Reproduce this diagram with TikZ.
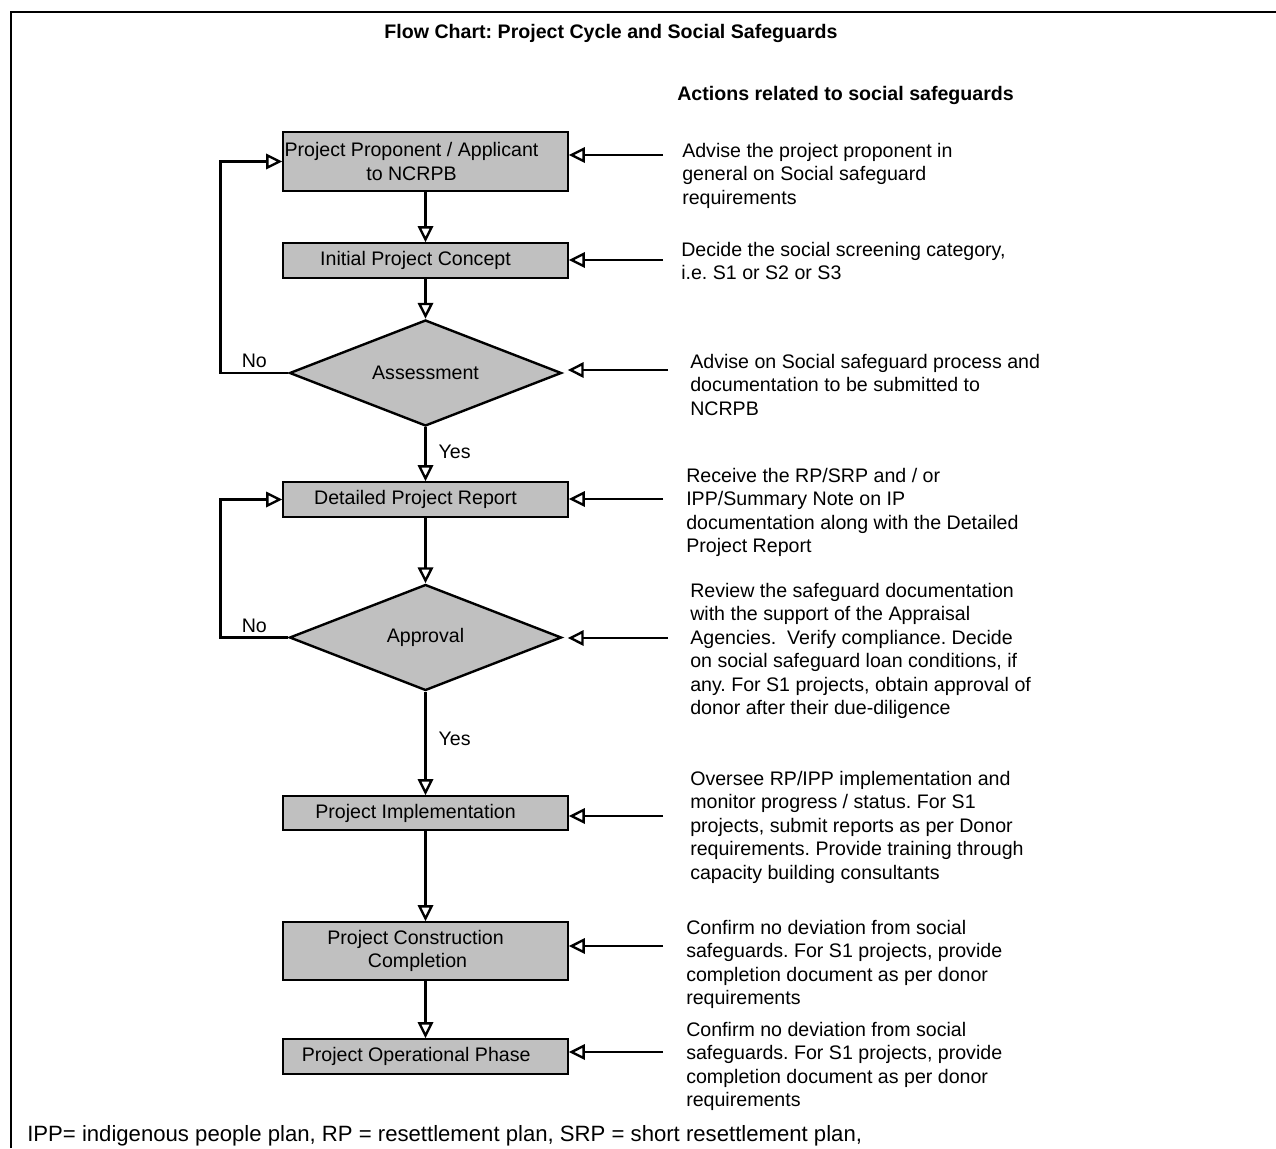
\documentclass[tikz,border=0pt]{standalone}
\usepackage{fontspec}
\setmainfont{Liberation Sans}
\usetikzlibrary{arrows.meta,shapes.geometric,calc}
\definecolor{boxgray}{RGB}{192,192,192}
\newcommand\bodyfont{\fontsize{14.7}{17.55}\selectfont\frenchspacing}
\newcommand\footfont{\fontsize{16.6}{19.8}\selectfont\frenchspacing}
\newcommand\padr[1]{\rule{#1}{0pt}}
\begin{document}
\begin{tikzpicture}[x=0.75pt,y=-0.75pt,
  box/.style={draw, line width=1.2pt, fill=boxgray, minimum width=213.75pt, align=center, inner sep=0pt, font=\bodyfont},
  dia/.style={diamond, aspect=2.6, draw, line width=1.8pt, fill=boxgray, minimum width=204pt, minimum height=79.5pt, inner sep=0pt, font=\bodyfont},
  arr/.style={line width=1.8pt, -{Triangle[open, length=12pt, width=11.5pt]}},
  note/.style={anchor=north west, align=left, inner sep=0pt, font=\bodyfont},
  lab/.style={inner sep=0pt, font=\bodyfont}]
\useasboundingbox (0,0) rectangle (1276,1148);

% frame
\draw[line width=1.8pt] (11,1148) -- (11,12) -- (1276,12);

% headings
\node[lab, font=\bodyfont\bfseries] (title) at (611,33) {Flow Chart: Project Cycle and Social Safeguards};
\node[lab, font=\bodyfont\bfseries, anchor=west] (actions) at (677,95) {Actions related to social safeguards};

% flow nodes
\node[box, minimum height=44.25pt] (b1) at (425.5,161.5) {Project Proponent / Applicant\padr{21pt}\\to NCRPB\padr{21pt}};
\node[box, minimum height=26.25pt] (b2) at (425.5,260.5) {Initial Project Concept\padr{15pt}};
\node[dia] (d1) at (425.5,373) {Assessment};
\node[box, minimum height=26.25pt] (b4) at (425.5,499.5) {Detailed Project Report\padr{15pt}};
\node[dia] (d2) at (425.5,637.5) {Approval};
\node[box, minimum height=25.5pt] (b6) at (425.5,813) {Project Implementation\padr{15pt}};
\node[box, minimum height=43.5pt] (b7) at (425.5,951) {Project Construction\padr{15pt}\\Completion\padr{12pt}};
\node[box, minimum height=26.25pt] (b8) at (425.5,1056.5) {Project Operational Phase\padr{14pt}};

% main flow
\draw[arr] (b1.south) -- (b2.north);
\draw[arr] (b2.south) -- (d1.north);
\draw[arr] (d1.south) -- node[lab, right=9pt, pos=0.45] (yes1) {Yes} (b4.north);
\draw[arr] (b4.south) -- (d2.north);
\draw[arr] (d2.south) -- node[lab, right=9pt, pos=0.46] (yes2) {Yes} (b6.north);
\draw[arr] (b6.south) -- (b7.north);
\draw[arr] (b7.south) -- (b8.north);

% feedback loops
\draw[arr] (d1.west) -- node[lab, above=3pt] (no1) {No} ++(-68,0) |- (b1.west);
\draw[arr] (d2.west) -- node[lab, above=3pt] (no2) {No} ++(-68,0) |- (b4.west);

% side arrows
\coordinate (r1) at (663,155);
\coordinate (r2) at (663,260);
\coordinate (r3) at (668,370);
\coordinate (r4) at (663,499);
\coordinate (r5) at (668,638);
\coordinate (r6) at (663,816);
\coordinate (r7) at (663,946);
\coordinate (r8) at (663,1052);
\draw[arr] (r1) -- (r1 -| b1.east);
\draw[arr] (r2) -- (r2 -| b2.east);
\draw[arr] (r3) -- ($(r3 -| d1.east)+(5,0)$);
\draw[arr] (r4) -- (r4 -| b4.east);
\draw[arr] (r5) -- ($(r5 -| d2.east)+(5,0)$);
\draw[arr] (r6) -- (r6 -| b6.east);
\draw[arr] (r7) -- (r7 -| b7.east);
\draw[arr] (r8) -- (r8 -| b8.east);

% notes
\node[note] (n1) at (682,143) {Advise the project proponent in\\general on Social safeguard\\requirements};
\node[note] (n2) at (681,242) {Decide the social screening category,\\i.e. S1 or S2 or S3};
\node[note] (n3) at (690,354) {Advise on Social safeguard process and\\documentation to be submitted to\\NCRPB};
\node[note] (n4) at (686,468) {Receive the RP/SRP and / or\\IPP/Summary Note on IP\\documentation along with the Detailed\\Project Report};
\node[note] (n5) at (690,583) {Review the safeguard documentation\\with the support of the Appraisal\\Agencies.\ \ Verify compliance. Decide\\on social safeguard loan conditions, if\\any. For S1 projects, obtain approval of\\donor after their due-diligence};
\node[note] (n6) at (690,771) {Oversee RP/IPP implementation and\\monitor progress / status. For S1\\projects, submit reports as per Donor\\requirements. Provide training through\\capacity building consultants};
\node[note] (n7) at (686,920) {Confirm no deviation from social\\safeguards. For S1 projects, provide\\completion document as per donor\\requirements};
\node[note] (n8) at (686,1022) {Confirm no deviation from social\\safeguards. For S1 projects, provide\\completion document as per donor\\requirements};

% footer
\node[note, font=\footfont] (foot) at (27,1125) {IPP= indigenous people plan, RP = resettlement plan, SRP = short resettlement plan,};
\end{tikzpicture}
\end{document}
